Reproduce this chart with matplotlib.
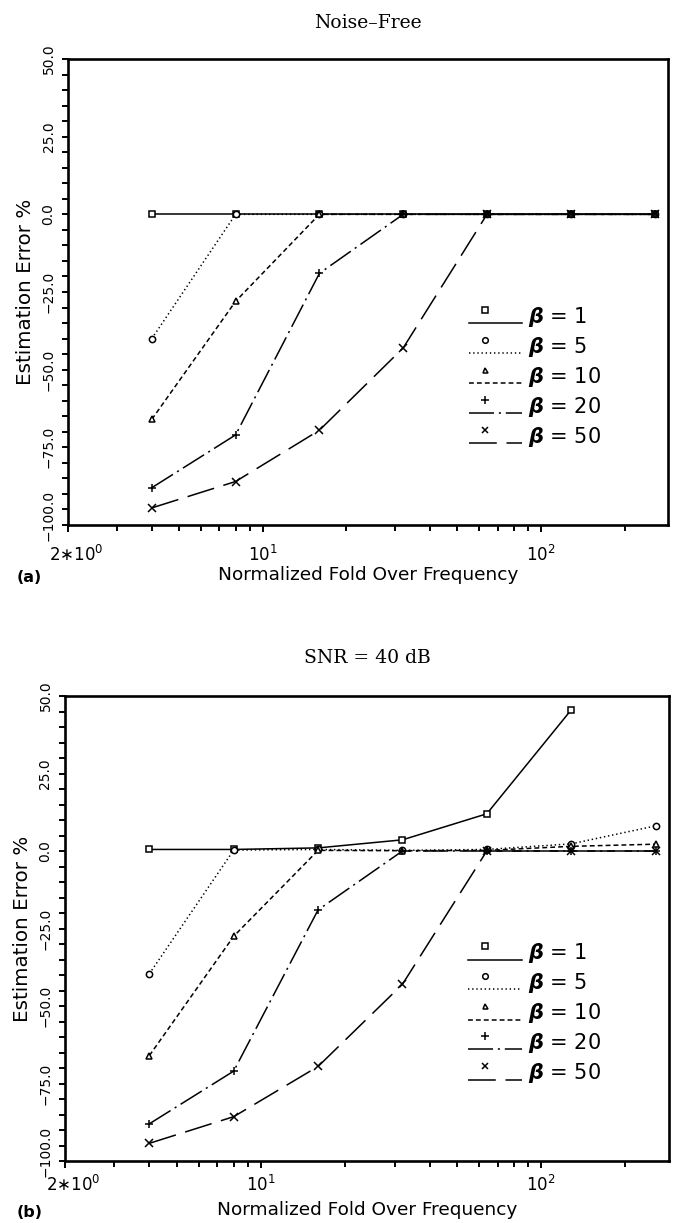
import matplotlib
matplotlib.use("Agg")
import matplotlib.pyplot as plt
import matplotlib.transforms as mtransforms
from matplotlib.ticker import FixedLocator, MultipleLocator, NullFormatter

plt.rcParams['font.family'] = ['DejaVu Sans']
plt.rcParams['mathtext.fontset'] = 'dejavusans'
plt.rcParams['lines.scale_dashes'] = False

# ---------------- data ----------------
freqs = [4, 8, 16, 32, 64, 128, 256]
betas = ["1", "5", "10", "20", "50"]

# (a) Noise-Free
a_b1 = [0, 0, 0, 0, 0, 0, 0]
a_b5 = [-40, 0, 0, 0, 0, 0, 0]
a_b10 = [-66, -28, 0, 0, 0, 0, 0]
a_b20 = [-88, -71, -19, 0, 0, 0, 0]
a_b50 = [-94.5, -86, -69.5, -43, 0, 0, 0]

# (b) SNR = 40 dB
b_b1 = [0.5, 0.5, 1.0, 3.6, 12, 45.5]
b_b5 = [-39.6, 0.3, 0.5, 0.2, 0.5, 2.3, 8.1]
b_b10 = [-66, -27.5, 0.2, 0.1, 0.2, 1.5, 2.2]
b_b20 = [-88, -71, -19, 0, 0, 0, 0]
b_b50 = [-94.3, -85.7, -69.5, -43, 0, 0, 0]

yticks = [50, 25, 0, -25, -50, -75, -100]
ytick_labels = ["50.0", "25.0", "0.0", "\u221225.0", "\u221250.0", "\u221275.0", "\u2212100.0"]
xticks = [2, 10, 100]
xtick_labels = [r"2$\ast$10$^{0}$", r"10$^{1}$", r"10$^{2}$"]

# ---------------- styles ----------------
markers = ['s', 'o', '^', '+', 'x']
styles = ['-', (0, (1, 2)), (0, (3.5, 2.2)), (0, (18, 3.5, 1.5, 3.5)), (0, (20, 7))]
msizes = [4.5, 4.5, 4.0, 6, 5.5]

fig = plt.figure(figsize=(6.75, 12.23), dpi=100)


def setup(ax, title, title_pad, tag, tag_x, xl_y, tl_pad):
    ax.set_xscale('log')
    ax.set_xlim(2, 286)
    ax.set_ylim(-100, 50)
    for s in ax.spines.values():
        s.set_linewidth(1.9)
    ax.xaxis.set_major_locator(FixedLocator(xticks))
    ax.set_xticklabels(xtick_labels)
    minors = [3, 4, 5, 6, 7, 8, 9, 20, 30, 40, 50, 60, 70, 80, 90, 200]
    ax.xaxis.set_minor_locator(FixedLocator(minors))
    ax.xaxis.set_minor_formatter(NullFormatter())
    ax.set_yticks(yticks)
    ax.set_yticklabels(ytick_labels, rotation=90, va='center')
    ax.yaxis.set_minor_locator(MultipleLocator(5))
    ax.tick_params(axis='both', which='both', direction='out', width=1.4, colors='black')
    ax.tick_params(axis='x', which='major', length=5, labelsize=12, pad=tl_pad)
    ax.tick_params(axis='x', which='minor', length=4.5)
    ax.tick_params(axis='y', which='major', length=4, labelsize=10, pad=5)
    ax.tick_params(axis='y', which='minor', length=4)
    # nudge the first x tick label right and the lowest y tick label up, as in the original
    offx = mtransforms.ScaledTranslation(8 / 100, 0, fig.dpi_scale_trans)
    lab0 = ax.get_xticklabels()[0]
    lab0.set_transform(lab0.get_transform() + offx)
    offy = mtransforms.ScaledTranslation(0, 10 / 100, fig.dpi_scale_trans)
    laby = ax.get_yticklabels()[-1]
    laby.set_transform(laby.get_transform() + offy)
    ax.set_ylabel("Estimation Error %", fontsize=14.3, labelpad=5)
    ax.set_title(title, fontsize=13.5, family='DejaVu Serif', pad=title_pad)
    ax.text(0.5, xl_y, "Normalized Fold Over Frequency", transform=ax.transAxes,
            ha='center', va='center', fontsize=13.3)
    ax.text(tag_x, xl_y - 0.006, tag, transform=ax.transAxes, ha='center', va='center',
            fontsize=11.5, fontweight='bold')


def legend(ax):
    rows = [0.447, 0.383, 0.318, 0.254, 0.189]
    for i, (b, m, ls, ms) in enumerate(zip(betas, markers, styles, msizes)):
        y = rows[i]
        ax.plot([0.668, 0.757], [y - 0.014, y - 0.014], transform=ax.transAxes,
                color='black', lw=1.1, linestyle=ls, clip_on=False)
        ax.plot([0.695], [y + 0.015], transform=ax.transAxes, marker=m, ms=ms * 0.9,
                mfc='white' if m in 'so^' else 'black', mec='black', mew=1.1,
                linestyle='none', clip_on=False)
        ax.text(0.767, y, r"$\boldsymbol{\beta}$ = " + b, transform=ax.transAxes,
                ha='left', va='center', fontsize=15)


def draw(ax, series, xs_list):
    for ys, xs, m, ls, ms in zip(series, xs_list, markers, styles, msizes):
        ax.plot(xs, ys, color='black', lw=1.1, linestyle=ls, marker=m, ms=ms,
                mfc='white' if m in 'so^' else 'black', mec='black', mew=1.1)


# top panel
ax1 = fig.add_axes([68 / 675, (1223 - 525) / 1223, 600 / 675, 466 / 1223])
draw(ax1, [a_b1, a_b5, a_b10, a_b20, a_b50], [freqs] * 5)
setup(ax1, "Noise\u2013Free", 22, "(a)", -0.064, -0.107, 9)
legend(ax1)

# bottom panel
ax2 = fig.add_axes([65 / 675, (1223 - 1161) / 1223, 604 / 675, 465 / 1223])
draw(ax2, [b_b1, b_b5, b_b10, b_b20, b_b50],
     [freqs[:len(b_b1)], freqs, freqs, freqs, freqs])
setup(ax2, "SNR = 40 dB", 24, "(b)", -0.059, -0.105, 5)
legend(ax2)

fig.savefig("out.png", dpi=100)
